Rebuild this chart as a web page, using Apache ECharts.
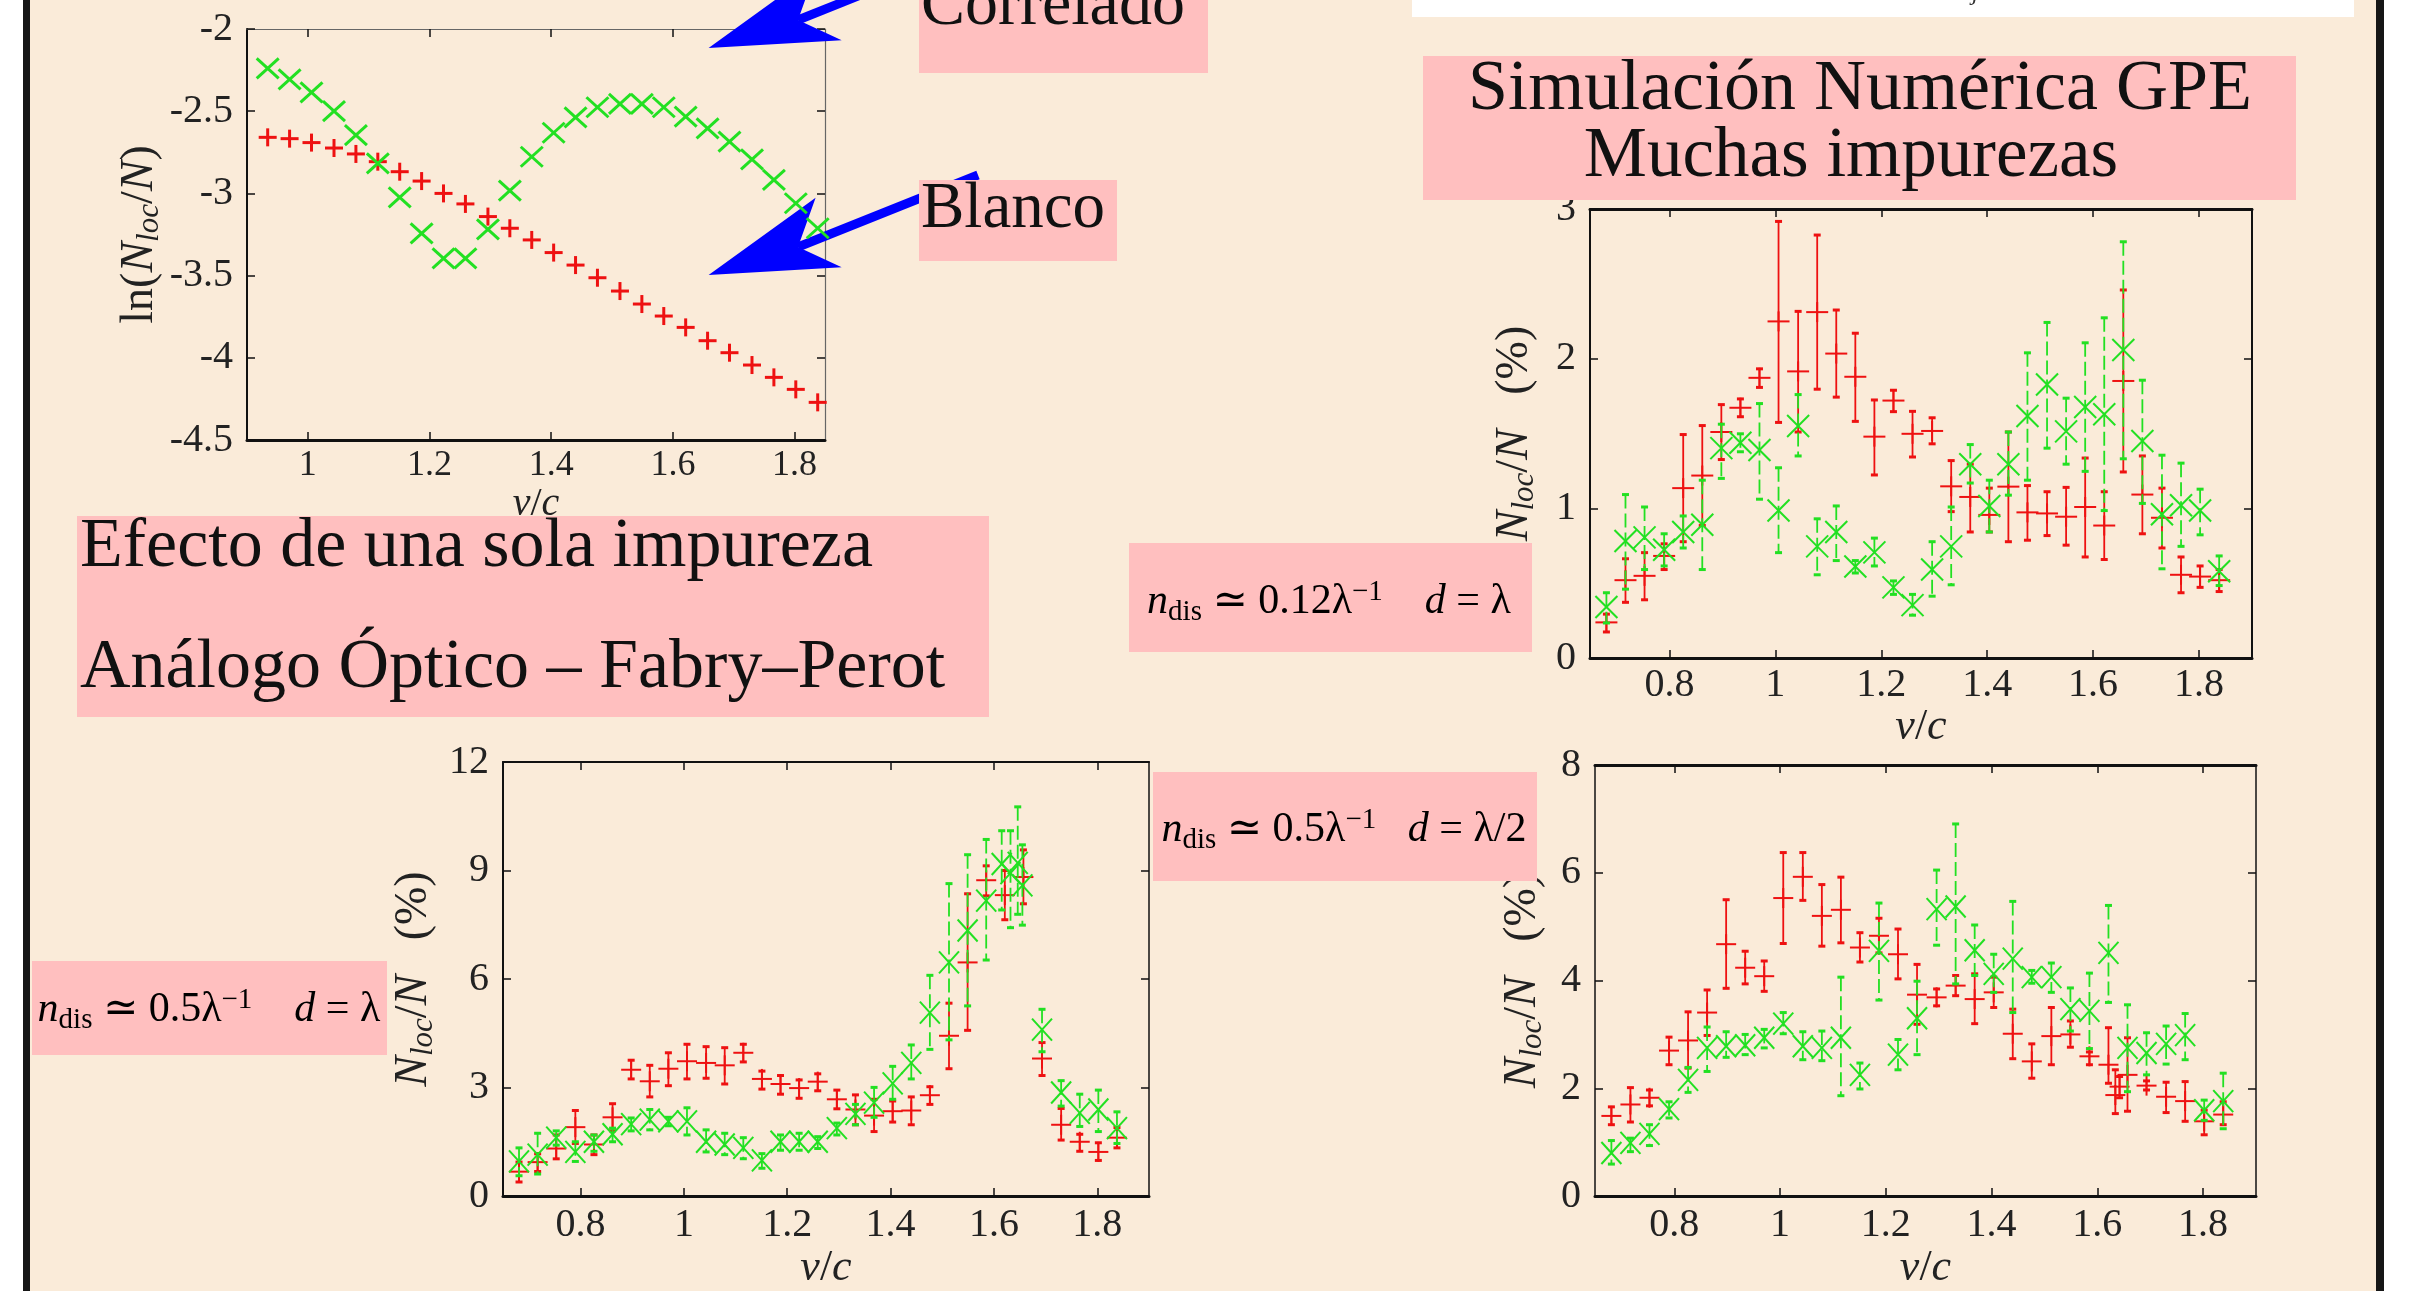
<!DOCTYPE html>
<html><head><meta charset="utf-8">
<script src="https://cdn.jsdelivr.net/npm/echarts@6/dist/echarts.min.js"></script>
<style>html,body{margin:0;padding:0;background:#fff}#c{width:2413px;height:1291px}</style>
</head><body><div id="c"></div>
<script>
// ---------------- DATA ----------------
// Top-left: ln(Nloc/N) vs v/c (single impurity)
const vc1 = [0.934, 0.970, 1.006, 1.043, 1.079, 1.115, 1.151, 1.187, 1.223, 1.259, 1.296, 1.332, 1.368, 1.404, 1.440, 1.476, 1.513, 1.549, 1.585, 1.621, 1.657, 1.693, 1.730, 1.766, 1.802, 1.838];
const p1Blanco = [-2.659, -2.667, -2.691, -2.724, -2.760, -2.807, -2.868, -2.925, -3.000, -3.064, -3.141, -3.212, -3.283, -3.360, -3.436, -3.513, -3.594, -3.673, -3.746, -3.815, -3.896, -3.969, -4.044, -4.119, -4.192, -4.271];
const p1Correlado = [-2.239, -2.306, -2.385, -2.499, -2.645, -2.817, -3.024, -3.243, -3.395, -3.395, -3.219, -2.983, -2.777, -2.631, -2.537, -2.476, -2.456, -2.456, -2.476, -2.533, -2.604, -2.685, -2.793, -2.918, -3.060, -3.212];

// Common v/c grid of the GPE simulations
const vcA = [0.681, 0.717, 0.753, 0.790, 0.826, 0.862, 0.898, 0.934, 0.970, 1.006, 1.043, 1.079, 1.115, 1.151, 1.187, 1.223, 1.259, 1.296, 1.332, 1.368, 1.404, 1.440, 1.476, 1.513, 1.549, 1.585, 1.621, 1.657, 1.693, 1.730, 1.766, 1.802, 1.838];

// Top-right: n_dis ~ 0.12/lambda, d = lambda
const p2RedVal = [0.238, 0.520, 0.549, 0.682, 1.135, 1.219, 1.510, 1.672, 1.872, 2.249, 1.915, 2.311, 2.034, 1.879, 1.479, 1.720, 1.498, 1.517, 1.147, 1.076, 0.956, 1.145, 0.973, 0.966, 0.944, 1.009, 0.885, 1.851, 1.092, 0.937, 0.556, 0.544, 0.520];
const p2RedLo = [0.174, 0.372, 0.389, 0.591, 0.777, 0.885, 1.326, 1.612, 1.808, 1.574, 1.510, 1.796, 1.743, 1.581, 1.223, 1.646, 1.343, 1.431, 0.978, 0.842, 0.842, 0.777, 0.787, 0.818, 0.754, 0.675, 0.658, 1.243, 0.830, 0.735, 0.436, 0.472, 0.444];
const p2RedHi = [0.293, 0.663, 0.704, 0.763, 1.493, 1.553, 1.693, 1.731, 1.932, 2.917, 2.316, 2.826, 2.325, 2.170, 1.724, 1.789, 1.648, 1.605, 1.319, 1.295, 1.135, 1.510, 1.152, 1.111, 1.140, 1.336, 1.111, 2.459, 1.350, 1.135, 0.675, 0.615, 0.591];
const p2GreenVal = [0.341, 0.782, 0.806, 0.723, 0.842, 0.890, 1.402, 1.438, 1.390, 0.985, 1.550, 0.746, 0.842, 0.611, 0.706, 0.472, 0.353, 0.591, 0.746, 1.295, 1.016, 1.295, 1.617, 1.827, 1.514, 1.677, 1.629, 2.058, 1.450, 0.961, 1.021, 0.985, 0.580];
const p2GreenLo = [0.234, 0.460, 0.591, 0.615, 0.735, 0.591, 1.200, 1.378, 1.061, 0.704, 1.350, 0.556, 0.651, 0.568, 0.615, 0.425, 0.286, 0.413, 0.489, 1.169, 0.842, 1.088, 1.188, 1.402, 1.295, 1.247, 0.985, 1.331, 1.033, 0.596, 0.746, 0.823, 0.484];
const p2GreenHi = [0.436, 1.092, 1.009, 0.830, 0.949, 1.188, 1.562, 1.498, 1.700, 1.271, 1.760, 0.930, 1.016, 0.651, 0.801, 0.515, 0.425, 0.777, 1.009, 1.426, 1.188, 1.510, 2.039, 2.242, 1.736, 2.106, 2.273, 2.781, 1.856, 1.355, 1.302, 1.128, 0.682];

// Bottom-left: n_dis ~ 0.5/lambda, d = lambda
const vc3Red = vcA;
const p3RedVal = [0.676, 0.939, 1.315, 1.906, 1.427, 2.178, 3.493, 3.174, 3.521, 3.728, 3.681, 3.615, 3.962, 3.239, 3.099, 2.986, 3.164, 2.676, 2.394, 2.225, 2.347, 2.366, 2.789, 4.432, 6.460, 8.732, 8.320, 8.820, 3.803, 1.972, 1.502, 1.221, 1.615];
const p3RedLo = [0.390, 0.680, 1.030, 1.455, 1.146, 1.803, 3.239, 2.742, 3.052, 3.239, 3.258, 3.099, 3.709, 2.958, 2.817, 2.704, 2.911, 2.413, 1.972, 1.784, 2.047, 1.972, 2.535, 3.521, 4.582, 8.300, 7.640, 8.080, 3.333, 1.549, 1.239, 0.986, 1.333];
const p3RedHi = [0.940, 1.170, 1.690, 2.366, 1.690, 2.554, 3.756, 3.615, 3.962, 4.197, 4.131, 4.103, 4.197, 3.455, 3.333, 3.211, 3.380, 2.930, 2.798, 2.676, 2.629, 2.742, 3.023, 5.333, 8.357, 9.130, 9.000, 9.570, 4.244, 2.423, 1.709, 1.474, 1.897];
const vc3Green = [0.681, 0.717, 0.753, 0.790, 0.826, 0.862, 0.898, 0.934, 0.970, 1.006, 1.043, 1.079, 1.115, 1.151, 1.187, 1.223, 1.259, 1.296, 1.332, 1.368, 1.404, 1.440, 1.476, 1.513, 1.549, 1.585, 1.615, 1.632, 1.646, 1.655, 1.693, 1.730, 1.766, 1.802, 1.838];
const p3GreenVal = [0.958, 1.146, 1.615, 1.221, 1.502, 1.709, 1.991, 2.113, 2.066, 2.066, 1.502, 1.427, 1.333, 0.986, 1.502, 1.502, 1.502, 1.878, 2.272, 2.582, 3.117, 3.681, 5.070, 6.460, 7.343, 8.169, 9.180, 8.930, 9.210, 8.590, 4.601, 2.864, 2.300, 2.394, 1.878];
const p3GreenLo = [0.563, 0.610, 1.408, 0.958, 1.239, 1.502, 1.803, 1.831, 1.944, 1.690, 1.221, 1.146, 1.033, 0.770, 1.268, 1.268, 1.315, 1.690, 1.972, 2.178, 2.676, 3.239, 4.056, 4.319, 5.258, 6.526, 7.910, 7.420, 7.790, 7.490, 3.991, 2.488, 1.925, 1.784, 1.455];
const p3GreenHi = [1.333, 1.737, 1.803, 1.502, 1.690, 1.878, 2.160, 2.394, 2.178, 2.441, 1.831, 1.737, 1.615, 1.174, 1.690, 1.737, 1.643, 2.019, 2.535, 3.005, 3.587, 4.178, 6.103, 8.638, 9.437, 9.859, 10.10, 10.10, 10.76, 9.710, 5.164, 3.192, 2.817, 2.930, 2.329];

// Bottom-right: n_dis ~ 0.5/lambda, d = lambda/2
const vc4Red = [0.681, 0.717, 0.753, 0.790, 0.826, 0.862, 0.898, 0.934, 0.970, 1.006, 1.043, 1.079, 1.115, 1.151, 1.187, 1.223, 1.259, 1.296, 1.332, 1.368, 1.404, 1.440, 1.476, 1.513, 1.549, 1.585, 1.621, 1.634, 1.642, 1.657, 1.693, 1.730, 1.766, 1.802, 1.838];
const p4RedVal = [1.488, 1.700, 1.825, 2.700, 2.888, 3.406, 4.675, 4.238, 4.081, 5.531, 5.925, 5.200, 5.313, 4.613, 4.831, 4.488, 3.738, 3.688, 3.906, 3.656, 3.781, 3.013, 2.500, 2.969, 3.000, 2.594, 2.438, 1.875, 2.031, 2.250, 2.050, 1.844, 1.763, 1.388, 1.513];
const p4RedLo = [1.325, 1.375, 1.675, 2.438, 2.375, 2.981, 3.856, 3.938, 3.800, 4.688, 5.488, 4.638, 4.700, 4.344, 4.513, 4.031, 3.188, 3.531, 3.719, 3.200, 3.500, 2.550, 2.188, 2.438, 2.763, 2.438, 2.094, 1.531, 1.825, 1.575, 1.969, 1.550, 1.388, 1.138, 1.325];
const p4RedHi = [1.656, 2.013, 1.969, 2.950, 3.419, 3.825, 5.500, 4.544, 4.363, 6.375, 6.375, 5.781, 5.919, 4.888, 5.156, 4.956, 4.300, 3.844, 4.094, 4.125, 4.063, 3.469, 2.825, 3.500, 3.250, 2.675, 3.125, 2.344, 2.219, 2.938, 2.138, 2.113, 2.125, 1.594, 1.750];
const vc4Green = vcA;
const p4GreenVal = [0.800, 0.988, 1.156, 1.613, 2.156, 2.750, 2.781, 2.800, 2.938, 3.200, 2.781, 2.750, 2.938, 2.250, 4.550, 2.625, 3.300, 5.325, 5.375, 4.563, 4.125, 4.406, 4.063, 4.063, 3.469, 3.438, 4.513, 2.750, 2.656, 2.825, 2.988, 1.594, 1.763];
const p4GreenLo = [0.594, 0.825, 0.938, 1.450, 1.925, 2.313, 2.575, 2.625, 2.750, 3.013, 2.531, 2.513, 1.863, 1.988, 3.638, 2.344, 2.625, 4.656, 3.938, 4.094, 3.781, 3.406, 3.950, 3.781, 3.063, 2.738, 3.594, 1.938, 2.250, 2.450, 2.531, 1.406, 1.250];
const p4GreenHi = [1.031, 1.075, 1.325, 1.750, 2.388, 3.138, 3.050, 3.000, 3.094, 3.406, 3.050, 3.063, 4.063, 2.469, 5.438, 2.906, 3.988, 6.050, 6.906, 5.031, 4.488, 5.469, 4.188, 4.325, 3.863, 4.138, 5.394, 3.550, 3.031, 3.156, 3.388, 1.781, 2.281];

// Tick labels
const ticksVc1 = [1, 1.2, 1.4, 1.6, 1.8];
const ticksVc = [0.8, 1, 1.2, 1.4, 1.6, 1.8];

// ---------------- STYLE ----------------
const FONT = "'Liberation Serif', 'DejaVu Serif', serif";
const RED = '#ee1111';
const GREEN = '#22e022';
const BEIGE = '#faebd9';
const PINK = '#ffbfbf';

function marks(color, shape, hw, hh, lw, dashed) {
  return function (params, api) {
    const x = api.value(0), y = api.value(1);
    const c = api.coord([x, y]);
    const kids = [];
    const lo = api.value(2), hi = api.value(3);
    if (lo != null && hi != null && !isNaN(lo) && !isNaN(hi)) {
      const pl = api.coord([x, lo]), ph = api.coord([x, hi]);
      kids.push({type: 'line', shape: {x1: c[0], y1: ph[1], x2: c[0], y2: pl[1]},
        style: {stroke: color, lineWidth: 1.8, lineDash: dashed ? [14, 5] : null}});
      kids.push({type: 'line', shape: {x1: c[0] - 3.5, y1: ph[1], x2: c[0] + 3.5, y2: ph[1]}, style: {stroke: color, lineWidth: 3}});
      kids.push({type: 'line', shape: {x1: c[0] - 3.5, y1: pl[1], x2: c[0] + 3.5, y2: pl[1]}, style: {stroke: color, lineWidth: 3}});
    }
    if (shape === 'plus') {
      kids.push({type: 'line', shape: {x1: c[0] - hw, y1: c[1], x2: c[0] + hw, y2: c[1]}, style: {stroke: color, lineWidth: lw}});
      kids.push({type: 'line', shape: {x1: c[0], y1: c[1] - hh, x2: c[0], y2: c[1] + hh}, style: {stroke: color, lineWidth: lw}});
    } else {
      kids.push({type: 'line', shape: {x1: c[0] - hw, y1: c[1] - hh, x2: c[0] + hw, y2: c[1] + hh}, style: {stroke: color, lineWidth: lw}});
      kids.push({type: 'line', shape: {x1: c[0] - hw, y1: c[1] + hh, x2: c[0] + hw, y2: c[1] - hh}, style: {stroke: color, lineWidth: lw}});
    }
    return {type: 'group', children: kids};
  };
}

function pts(xs, v, lo, hi) {
  return xs.map((x, i) => lo ? [x, v[i], lo[i], hi[i]] : [x, v[i]]);
}

function vcRich(fs) {
  return {
    i: {fontFamily: FONT, fontStyle: 'italic', fontSize: fs, color: '#222'},
    r: {fontFamily: FONT, fontSize: fs, color: '#222'}
  };
}
const nRich = {
  i: {fontFamily: FONT, fontStyle: 'italic', fontSize: 46, color: '#222'},
  r: {fontFamily: FONT, fontSize: 46, color: '#222'},
  s: {fontFamily: FONT, fontStyle: 'italic', fontSize: 31, color: '#222', padding: [20, 0, 0, 0]}
};

function xAxes(gi, min, max, ticks, o) {
  const tk = {show: true, inside: true, length: 8, customValues: ticks, lineStyle: {color: '#111', width: 1.5}};
  return [
    {type: 'value', gridIndex: gi, position: 'bottom', min: min, max: max,
      axisLine: {show: true, onZero: false, lineStyle: {color: '#111', width: o.bw}},
      axisTick: tk,
      axisLabel: {show: true, customValues: ticks, fontFamily: FONT, fontSize: o.fs, color: '#222', margin: o.lm},
      splitLine: {show: false},
      name: '{i|v}{r|/}{i|c}', nameLocation: 'middle', nameGap: o.ng,
      nameTextStyle: {rich: vcRich(o.nfs)}},
    {type: 'value', gridIndex: gi, position: 'top', min: min, max: max,
      axisLine: {show: true, onZero: false, lineStyle: {color: o.tc, width: o.tw}},
      axisTick: tk, axisLabel: {show: false}, splitLine: {show: false}}
  ];
}
function yAxes(gi, min, max, step, o) {
  const tk = {show: true, inside: true, length: 8, lineStyle: {color: '#111', width: 1.5}};
  return [
    {type: 'value', gridIndex: gi, position: 'left', min: min, max: max, interval: step,
      axisLine: {show: true, onZero: false, lineStyle: {color: '#111', width: o.lw}},
      axisTick: tk,
      axisLabel: {show: true, fontFamily: FONT, fontSize: 40, color: '#222', margin: 14},
      splitLine: {show: false},
      name: o.name, nameLocation: 'middle', nameGap: o.ng,
      nameTextStyle: {rich: nRich}},
    {type: 'value', gridIndex: gi, position: 'right', min: min, max: max, interval: step,
      axisLine: {show: true, onZero: false, lineStyle: {color: o.rc, width: o.rw}},
      axisTick: tk, axisLabel: {show: false}, splitLine: {show: false}}
  ];
}

const nameLn = '{r|ln(}{i|N}{s|loc}{r|/}{i|N}{r|)}';
const nameN = '{i|N}{s|loc}{r|/}{i|N}{r|   (%)}';

const xAxis = [].concat(
  xAxes(0, 0.9, 1.85, ticksVc1, {bw: 3, fs: 36, lm: 8, ng: 30, nfs: 40, tc: '#666', tw: 1.2}),
  xAxes(1, 0.65, 1.9, ticksVc, {bw: 3, fs: 40, lm: 7, ng: 41, nfs: 44, tc: '#111', tw: 3}),
  xAxes(2, 0.65, 1.9, ticksVc, {bw: 3, fs: 40, lm: 9, ng: 39, nfs: 44, tc: '#111', tw: 2}),
  xAxes(3, 0.65, 1.9, ticksVc, {bw: 3, fs: 40, lm: 9, ng: 39, nfs: 44, tc: '#111', tw: 3})
);
const yAxis = [].concat(
  yAxes(0, -4.5, -2, 0.5, {lw: 2, name: nameLn, ng: 75, rc: '#666', rw: 1.2}),
  yAxes(1, 0, 3, 1, {lw: 2, name: nameN, ng: 50, rc: '#111', rw: 2}),
  yAxes(2, 0, 12, 3, {lw: 2, name: nameN, ng: 64, rc: '#111', rw: 1.5}),
  yAxes(3, 0, 8, 2, {lw: 1.5, name: nameN, ng: 47, rc: '#111', rw: 1.5})
);

function cs(gi, data, color, shape, hw, hh, lw, dashed) {
  return {type: 'custom', xAxisIndex: gi * 2, yAxisIndex: gi * 2, data: data,
    encode: {x: 0, y: 1}, clip: false, z: 3,
    renderItem: marks(color, shape, hw, hh, lw, dashed)};
}

const series = [
  cs(0, pts(vc1, p1Blanco), RED, 'plus', 9, 9, 3, false),
  cs(0, pts(vc1, p1Correlado), GREEN, 'cross', 11, 10, 3, false),
  cs(1, pts(vcA, p2RedVal, p2RedLo, p2RedHi), RED, 'plus', 11, 10, 2, false),
  cs(1, pts(vcA, p2GreenVal, p2GreenLo, p2GreenHi), GREEN, 'cross', 11, 11, 2, true),
  cs(2, pts(vc3Red, p3RedVal, p3RedLo, p3RedHi), RED, 'plus', 10, 10, 2, false),
  cs(2, pts(vc3Green, p3GreenVal, p3GreenLo, p3GreenHi), GREEN, 'cross', 10, 11, 2, true),
  cs(3, pts(vc4Red, p4RedVal, p4RedLo, p4RedHi), RED, 'plus', 10, 10, 2, false),
  cs(3, pts(vc4Green, p4GreenVal, p4GreenLo, p4GreenHi), GREEN, 'cross', 10, 11, 2, true)
];

// ---------------- DECORATION ----------------
function box(x, y, w, h, fill, z) {
  return {type: 'rect', shape: {x: x, y: y, width: w, height: h}, style: {fill: fill}, z: z || 1, silent: true};
}
function txt(x, y, text, fs, align, z) {
  return {type: 'text', x: x, y: y, z: z || 5, silent: true,
    style: {text: text, fontFamily: FONT, fontSize: fs, fill: '#111', align: align || 'left', verticalAlign: 'middle'}};
}
const mathRich = {
  m: {fontFamily: FONT, fontStyle: 'italic', fontSize: 42, color: '#111'},
  r: {fontFamily: FONT, fontSize: 42, color: '#111'},
  sub: {fontFamily: FONT, fontSize: 29, color: '#111', padding: [20, 0, 0, 0]},
  sup: {fontFamily: FONT, fontSize: 29, color: '#111', padding: [0, 0, 20, 0]}
};
function mtxt(x, y, text) {
  return {type: 'text', x: x, y: y, z: 5, silent: true,
    style: {text: text, rich: mathRich, align: 'center', verticalAlign: 'middle'}};
}
function arrow(dy) {
  return [
    {type: 'line', z: 1, silent: true, shape: {x1: 798, y1: 247 + dy, x2: 978, y2: 175 + dy}, style: {stroke: '#0000ff', lineWidth: 9}},
    {type: 'polygon', z: 1, silent: true, shape: {points: [[708.6, 275 + dy], [841.7, 267.3 + dy], [798, 247 + dy], [815.6, 197.7 + dy]]}, style: {fill: '#0000ff'}}
  ];
}

const graphic = [
  box(23, 0, 2361, 1291, BEIGE, -10),
  box(23, 0, 7, 1291, '#161616', 0),
  box(2376, 0, 8, 1291, '#161616', 0),
  box(1412, 0, 942, 17, '#ffffff', 0),
  {type: 'text', x: 1972, y: -6, z: 1, silent: true, style: {text: 'j', fontFamily: FONT, fontStyle: 'italic', fontSize: 24, fill: '#333', verticalAlign: 'middle'}},
  ...arrow(0),
  ...arrow(-227),
  box(919, 0, 289, 73, PINK, 2),
  txt(921, 7, 'Correlado', 66),
  box(919, 180, 198, 81, PINK, 2),
  txt(921, 210, 'Blanco', 65),
  box(1423, 56, 873, 144, PINK, 2),
  txt(1860, 90, 'Simulación Numérica GPE', 72, 'center'),
  txt(1851, 157, 'Muchas impurezas', 71, 'center'),
  box(77, 516, 912, 201, PINK, 2),
  txt(80, 548, 'Efecto de una sola impureza', 70),
  txt(80, 669, 'Análogo Óptico – Fabry–Perot', 70),
  box(32, 961, 355, 94, PINK, 2),
  mtxt(209, 1010, '{m|n}{sub|dis}{r| ≃ 0.5λ}{sup|−1}{r|    }{m|d}{r| = λ}'),
  box(1129, 543, 403, 109, PINK, 2),
  mtxt(1329, 602, '{m|n}{sub|dis}{r| ≃ 0.12λ}{sup|−1}{r|    }{m|d}{r| = λ}'),
  box(1153, 772, 384, 109, PINK, 2),
  mtxt(1344, 830, '{m|n}{sub|dis}{r| ≃ 0.5λ}{sup|−1}{r|   }{m|d}{r| = λ/2}')
];

const chart = echarts.init(document.getElementById('c'), null, {renderer: 'canvas'});
chart.setOption({
  animation: false,
  backgroundColor: '#ffffff',
  grid: [
    {left: 247, top: 29, width: 578, height: 411},
    {left: 1590, top: 209, width: 662, height: 449},
    {left: 503, top: 762, width: 646, height: 449},
    {left: 1595, top: 765, width: 661, height: 449}
  ],
  xAxis: xAxis,
  yAxis: yAxis,
  series: series,
  graphic: graphic
});
</script></body></html>
